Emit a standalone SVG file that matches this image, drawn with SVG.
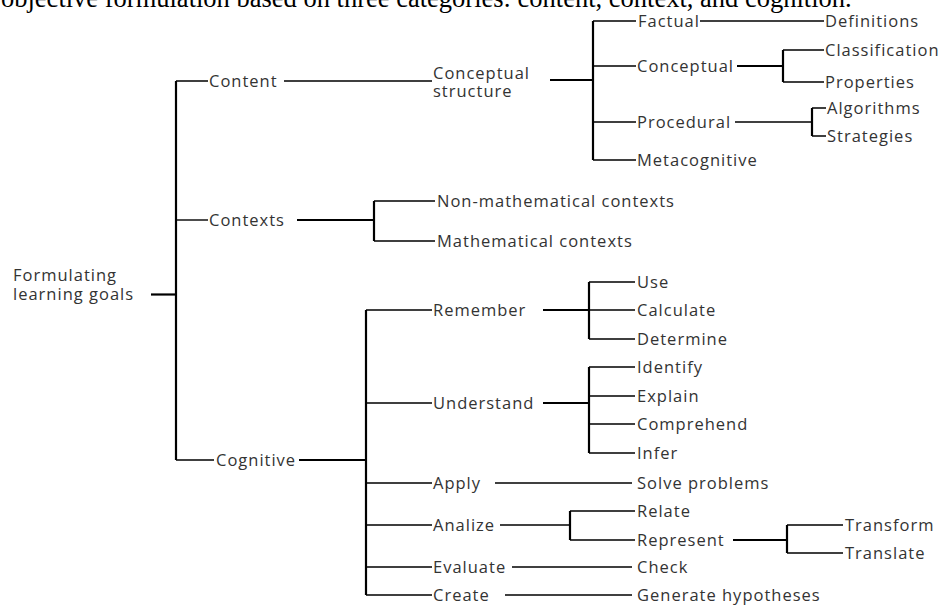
<svg xmlns="http://www.w3.org/2000/svg" width="941" height="606" viewBox="0 0 941 606">
<style>
.bg{fill:#ffffff}
.t{font-family:"Open Sans","DejaVu Sans",sans-serif;font-size:16.5px;fill:#333333;letter-spacing:1px}
.cap{font-family:"Liberation Serif","Times New Roman",serif;font-size:26.5px;fill:#000}
.c path{fill:none;stroke:#000;stroke-width:1.4}
.c path.k{stroke-width:2.2}
</style>
<rect class="bg" x="0" y="0" width="941" height="606"/>
<text class="cap" x="1" y="6.5">objective formulation based on three categories: content, context, and cognition.</text>
<g class="c" id="connectors">
<path class="k" d="M151 294.5H176"/>
<path class="k" d="M176 81V460"/>
<path d="M176 81H208M284 81H432"/>
<path d="M176 220H208"/>
<path class="k" d="M297 220H374"/>
<path class="k" d="M374 201V241"/>
<path d="M374 201H435M374 241H435"/>
<path d="M176 460H214"/>
<path class="k" d="M299 460H366"/>
<path class="k" d="M366 310V595"/>
<path d="M366 310H432M366 403H432M366 483H432M366 525H432M366 567H432M366 595H432"/>
<path class="k" d="M550 80H593"/>
<path class="k" d="M593 21V160"/>
<path d="M593 21H636M593 66H636M593 122H636M593 160H636"/>
<path d="M700 21H824"/>
<path class="k" d="M737 66H783"/>
<path class="k" d="M783 50V82"/>
<path d="M783 50H824M783 82H824"/>
<path d="M735 122H812"/>
<path class="k" d="M812 108V136"/>
<path d="M812 108H826M812 136H826"/>
<path class="k" d="M543 310H589"/>
<path class="k" d="M589 282V339"/>
<path d="M589 282H635M589 310H635M589 339H635"/>
<path class="k" d="M543 403H589"/>
<path class="k" d="M589 367V453"/>
<path d="M589 367H635M589 396H635M589 424H635M589 453H635"/>
<path d="M495 483H632"/>
<path d="M500 525H570"/>
<path class="k" d="M570 511V540"/>
<path d="M570 511H635M570 540H635"/>
<path class="k" d="M733 540H787"/>
<path class="k" d="M787 525V553"/>
<path d="M787 525H843M787 553H843"/>
<path d="M512 567H632"/>
<path d="M505 595H632"/>
</g>
<g id="root"><text class="t"><tspan x="13" y="281">Formulating</tspan><tspan x="13" y="300">learning goals</tspan></text></g>
<g id="content"><text class="t" x="209" y="87">Content</text></g>
<g id="contexts"><text class="t" x="209" y="226">Contexts</text></g>
<g id="cognitive"><text class="t" x="216" y="466">Cognitive</text></g>
<g id="conceptual-structure"><text class="t"><tspan x="433" y="79">Conceptual</tspan><tspan x="433" y="97">structure</tspan></text></g>
<g id="non-math"><text class="t" x="437" y="207">Non-mathematical contexts</text></g>
<g id="math"><text class="t" x="437" y="247">Mathematical contexts</text></g>
<g id="factual"><text class="t" x="638" y="27">Factual</text></g>
<g id="conceptual"><text class="t" x="637" y="72">Conceptual</text></g>
<g id="procedural"><text class="t" x="637" y="128">Procedural</text></g>
<g id="metacognitive"><text class="t" x="637" y="166">Metacognitive</text></g>
<g id="definitions"><text class="t" x="825" y="27">Definitions</text></g>
<g id="classification"><text class="t" x="825" y="56">Classification</text></g>
<g id="properties"><text class="t" x="825" y="88">Properties</text></g>
<g id="algorithms"><text class="t" x="827" y="114">Algorithms</text></g>
<g id="strategies"><text class="t" x="827" y="142">Strategies</text></g>
<g id="remember"><text class="t" x="433" y="316">Remember</text></g>
<g id="understand"><text class="t" x="433" y="409">Understand</text></g>
<g id="apply"><text class="t" x="433" y="489">Apply</text></g>
<g id="analize"><text class="t" x="433" y="531">Analize</text></g>
<g id="evaluate"><text class="t" x="433" y="573">Evaluate</text></g>
<g id="create"><text class="t" x="433" y="601">Create</text></g>
<g id="use"><text class="t" x="637" y="288">Use</text></g>
<g id="calculate"><text class="t" x="637" y="316">Calculate</text></g>
<g id="determine"><text class="t" x="637" y="345">Determine</text></g>
<g id="identify"><text class="t" x="637" y="373">Identify</text></g>
<g id="explain"><text class="t" x="637" y="402">Explain</text></g>
<g id="comprehend"><text class="t" x="637" y="430">Comprehend</text></g>
<g id="infer"><text class="t" x="637" y="459">Infer</text></g>
<g id="solve"><text class="t" x="637" y="489">Solve problems</text></g>
<g id="relate"><text class="t" x="637" y="517">Relate</text></g>
<g id="represent"><text class="t" x="637" y="546">Represent</text></g>
<g id="check"><text class="t" x="637" y="573">Check</text></g>
<g id="generate"><text class="t" x="637" y="601">Generate hypotheses</text></g>
<g id="transform"><text class="t" x="845" y="531">Transform</text></g>
<g id="translate"><text class="t" x="845" y="559">Translate</text></g>
</svg>
